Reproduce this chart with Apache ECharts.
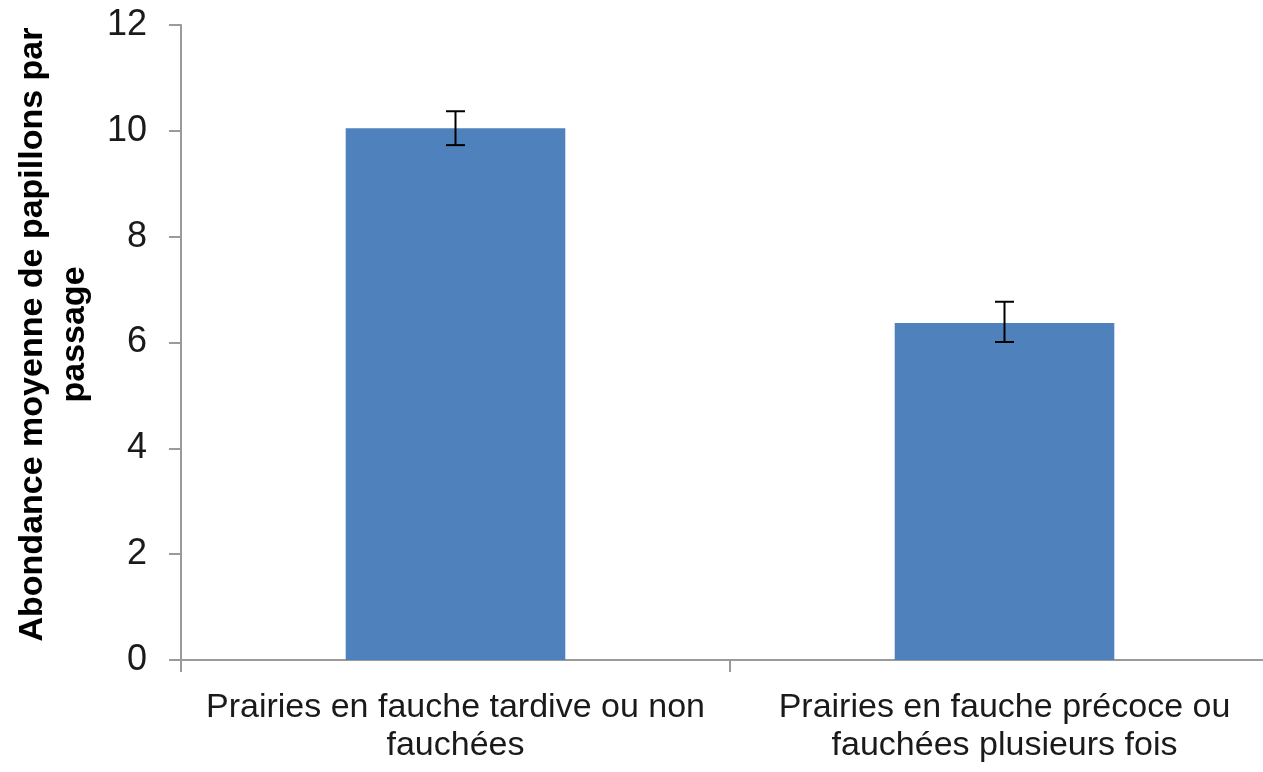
<!DOCTYPE html>
<html>
<head>
<meta charset="utf-8">
<script src="https://cdn.jsdelivr.net/npm/echarts@6/dist/echarts.min.js"></script>
<style>
  html, body { margin: 0; padding: 0; background: #fff; }
  #chart { width: 1263px; height: 772px; }
</style>
</head>
<body>
<div id="chart"></div>
<script>
var myChart = echarts.init(document.getElementById('chart'))

// données
var categories = ['Prairies en fauche tardive ou non\nfauchées', 'Prairies en fauche précoce ou\nfauchées plusieurs fois']
var abondance = [10.05, 6.37]
var erreurBasse = [9.73, 6.01]
var erreurHaute = [10.37, 6.77]
var yTicks = [0, 2, 4, 6, 8, 10, 12]

var errData = categories.map(function (c, i) {
  return [i, erreurBasse[i], erreurHaute[i]]
})

var option = {
  animation: false,
  // le graphique d'origine est coupé à droite
  grid: { left: 181, width: 1098, top: 25, bottom: 112, outerBoundsMode: 'none' },
  xAxis: {
    type: 'category',
    data: categories,
    axisLine: { lineStyle: { color: '#9a9a9a', width: 2 } },
    axisTick: { show: true, length: 12, lineStyle: { color: '#9a9a9a', width: 2 } },
    axisLabel: {
      color: '#1a1a1a',
      fontFamily: 'Liberation Sans, Arial, sans-serif',
      fontSize: 34,
      lineHeight: 38,
      margin: 29,
      interval: 0,
    },
  },
  yAxis: {
    type: 'value',
    min: yTicks[0],
    max: yTicks[yTicks.length - 1],
    interval: 2,
    name: 'Abondance moyenne de papillons par\npassage',
    nameLocation: 'middle',
    nameGap: 78,
    nameTextStyle: {
      color: '#000',
      fontFamily: 'Liberation Sans, Arial, sans-serif',
      fontWeight: 'bold',
      fontSize: 34,
      lineHeight: 42,
      padding: [0, 0, 0, 16],
    },
    axisLine: { show: true, lineStyle: { color: '#9a9a9a', width: 2 } },
    axisTick: { show: true, length: 12, lineStyle: { color: '#9a9a9a', width: 2 } },
    splitLine: { show: false },
    axisLabel: {
      color: '#1a1a1a',
      fontFamily: 'Liberation Sans, Arial, sans-serif',
      fontSize: 36,
      margin: 34,
    },
  },
  series: [
    {
      type: 'bar',
      data: abondance,
      barWidth: '40%',
      itemStyle: { color: '#4f81bd' },
    },
    {
      type: 'custom',
      data: errData,
      z: 10,
      renderItem: function (params, api) {
        var x = api.value(0)
        var lo = api.coord([x, api.value(1)])
        var hi = api.coord([x, api.value(2)])
        var w = 9.5
        var st = { stroke: '#000', lineWidth: 2 }
        return {
          type: 'group',
          children: [
            { type: 'line', shape: { x1: hi[0], y1: hi[1], x2: lo[0], y2: lo[1] }, style: st },
            { type: 'line', shape: { x1: hi[0] - w, y1: hi[1], x2: hi[0] + w, y2: hi[1] }, style: st },
            { type: 'line', shape: { x1: lo[0] - w, y1: lo[1], x2: lo[0] + w, y2: lo[1] }, style: st },
          ],
        }
      },
    },
  ],
}

myChart.setOption(option)
</script>
</body>
</html>
